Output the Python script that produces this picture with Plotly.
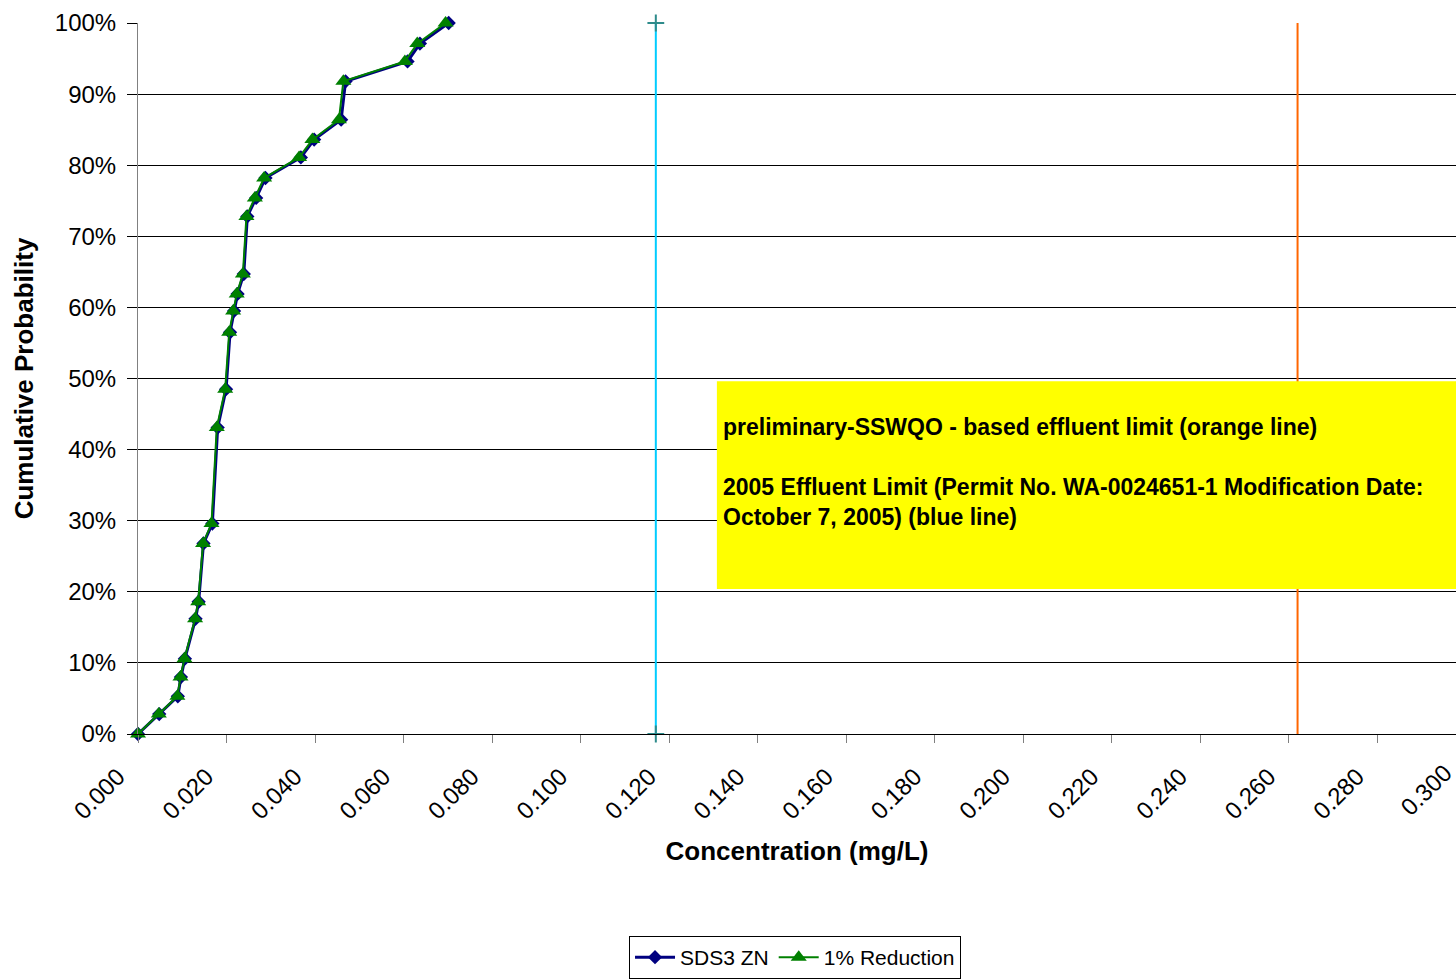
import plotly.graph_objects as go

# Cumulative probability (fraction)
prob = [0.0, 0.028, 0.053, 0.080, 0.106, 0.162, 0.186, 0.268, 0.296, 0.431, 0.485,
        0.565, 0.595, 0.619, 0.647, 0.728, 0.754, 0.782, 0.811, 0.836, 0.864, 0.918,
        0.946, 0.971, 1.0]
# SDS3 ZN concentration (mg/L)
sds3_zn = [0.0, 0.0048, 0.0090, 0.0097, 0.0106, 0.0130, 0.0137, 0.0148, 0.0168, 0.0180,
           0.0199, 0.0208, 0.0217, 0.0225, 0.0239, 0.0247, 0.0267, 0.0288, 0.0368, 0.0398,
           0.0459, 0.0469, 0.0609, 0.0637, 0.0702]
# 1% reduction
reduction = [0.0, 0.0047, 0.0089, 0.0096, 0.0105, 0.0129, 0.0136, 0.0147, 0.0166, 0.0178,
             0.0197, 0.0206, 0.0215, 0.0223, 0.0237, 0.0245, 0.0264, 0.0285, 0.0364, 0.0394,
             0.0454, 0.0464, 0.0603, 0.0631, 0.0695]

limit_2005 = 0.117          # blue line
limit_sswqo = 0.262         # orange line
limit_y = [0.0, 1.0]

box_x = [0.1308, 0.2978]
box_y = [0.204, 0.496]
note_text = ("preliminary-SSWQO - based effluent limit (orange line)<br><br>"
             "2005 Effluent Limit (Permit No. WA-0024651-1 Modification Date:<br>"
             "October 7, 2005) (blue line)")

FONT = "Liberation Sans, Arial, sans-serif"

fig = go.Figure()

fig.add_trace(go.Scatter(
    x=[limit_2005, limit_2005], y=limit_y, mode="lines+markers",
    line=dict(color="#00CCFF", width=2),
    marker=dict(symbol="cross-thin", size=12, line=dict(color="#2E8B8B", width=2)),
    showlegend=False, cliponaxis=False, hoverinfo="skip"))
fig.add_trace(go.Scatter(
    x=[limit_sswqo, limit_sswqo], y=limit_y, mode="lines",
    line=dict(color="#FF6600", width=2),
    showlegend=False, cliponaxis=False, hoverinfo="skip"))

fig.add_trace(go.Scatter(
    x=sds3_zn, y=prob, mode="lines+markers", name="SDS3 ZN",
    line=dict(color="#000080", width=3),
    marker=dict(symbol="diamond", size=11, color="#000080"),
    cliponaxis=False))
fig.add_trace(go.Scatter(
    x=reduction, y=prob, mode="lines+markers", name="1% Reduction",
    line=dict(color="#008000", width=2),
    marker=dict(symbol="triangle-up", size=14, color="#008000"),
    cliponaxis=False))

fig.add_shape(type="rect", xref="x", yref="y",
              x0=box_x[0], x1=box_x[1], y0=box_y[0], y1=box_y[1],
              fillcolor="#FFFF00", line=dict(width=0), layer="above")
fig.add_annotation(xref="x", yref="y", x=box_x[0], y=(box_y[0] + box_y[1]) / 2 + 0.0186,
                   text=note_text, showarrow=False, xanchor="left", yanchor="middle",
                   align="left", xshift=4,
                   font=dict(family=FONT, size=23, color="black", weight="bold"))
fig.add_annotation(xref="paper", yref="paper", x=1.0076, y=0,
                   text="0.300", showarrow=False, textangle=-45,
                   xanchor="right", yanchor="top", yshift=-22, xshift=-6,
                   font=dict(family=FONT, size=24, color="black"))

fig.update_layout(
    width=1456, height=979,
    margin=dict(l=138, r=0, t=23, b=244),
    paper_bgcolor="white", plot_bgcolor="white",
    font=dict(family=FONT, color="black"),
    showlegend=True,
    legend=dict(orientation="h", x=0.4985, xanchor="center", y=-0.2837, yanchor="top",
                bordercolor="black", borderwidth=1, font=dict(family=FONT, size=21),
                bgcolor="white", itemwidth=40),
    xaxis=dict(
        range=[0, 0.2978], dtick=0.02, tick0=0, tickformat=".3f",
        tickangle=-45, ticks="outside", ticklen=8, tickcolor="#808080",
        showgrid=False, zeroline=False, showline=True, linecolor="black",
        tickfont=dict(family=FONT, size=24),
        ticklabelstandoff=10, ticklabelshift=-20,
        title=dict(text="<b>Concentration (mg/L)</b>", font=dict(family=FONT, size=26),
                   standoff=18)),
    yaxis=dict(
        range=[0, 1], dtick=0.1, tickformat=".0%",
        ticks="outside", ticklen=10, tickcolor="black",
        showgrid=True, gridcolor="black", gridwidth=1,
        zeroline=False, showline=True, linecolor="#808080",
        tickfont=dict(family=FONT, size=24),
        ticklabelstandoff=6,
        title=dict(text="<b>Cumulative Probability</b>", font=dict(family=FONT, size=26),
                   standoff=13)),
)

fig.write_html("out.html", config={"displayModeBar": False},
               post_script="document.body.style.margin='0';document.body.style.overflow='hidden';")
